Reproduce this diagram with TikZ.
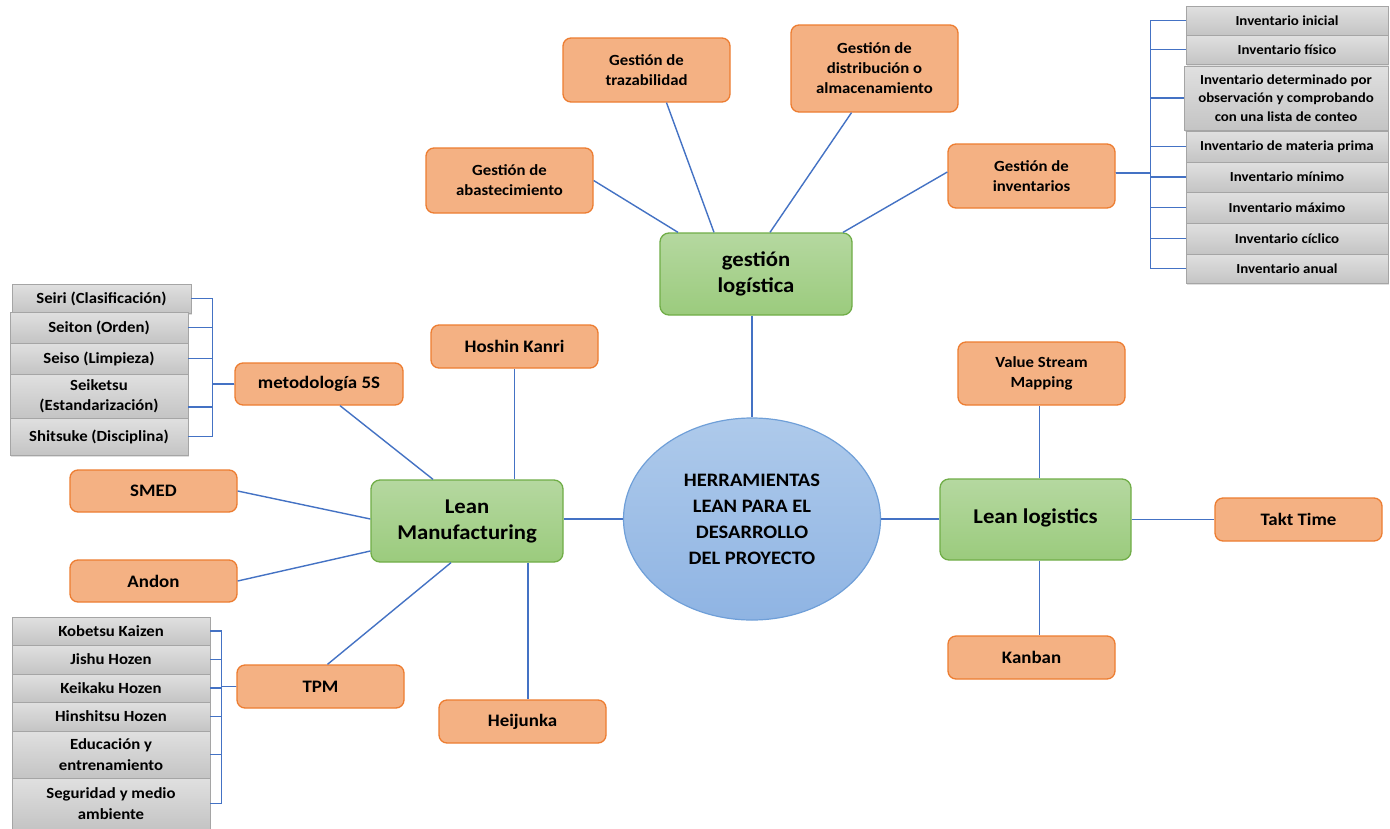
\documentclass[tikz,border=0pt]{standalone}
\usepackage{fontspec}
\setmainfont{Carlito}[FakeStretch=1.08]
\usetikzlibrary{shapes.geometric,shadows}

\definecolor{orfill}{HTML}{F4B183}
\definecolor{ordraw}{HTML}{ED7D31}
\definecolor{grtop}{HTML}{B5D8A0}
\definecolor{grbot}{HTML}{9BCB7D}
\definecolor{grdraw}{HTML}{70AD47}
\definecolor{bltop}{HTML}{AECAEB}
\definecolor{blbot}{HTML}{8FB4E3}
\definecolor{bldraw}{HTML}{6F9FD8}
\definecolor{gytop}{HTML}{E0E0E0}
\definecolor{gybot}{HTML}{C4C4C4}
\definecolor{gydraw}{HTML}{A5A5A5}
\definecolor{linkblue}{HTML}{4472C4}

\tikzset{
  obox/.style={draw=ordraw, fill=orfill, line width=1.3pt, rounded corners=8pt,
    align=center, inner sep=0pt, font=\bfseries\fontsize{15.5}{20}\selectfont},
  obig/.style={obox, font=\bfseries\fontsize{17.5}{21}\selectfont},
  gbox/.style={draw=grdraw, top color=grtop, bottom color=grbot, line width=1.3pt,
    rounded corners=9pt, align=center, inner sep=0pt,
    font=\bfseries\fontsize{21}{26}\selectfont},
  sbox/.style={draw=gydraw, top color=gytop, bottom color=gybot, line width=0.8pt,
    align=center, inner sep=0pt,
    drop shadow={shadow xshift=1pt, shadow yshift=-1.5pt, opacity=.25},
    font=\bfseries\fontsize{15.5}{20.5}\selectfont},
  ibox/.style={sbox, minimum width=202pt, font=\bfseries\fontsize{13.8}{18.5}\selectfont},
  fivebox/.style={sbox, minimum width=178pt},
  tpmbox/.style={sbox, minimum width=198pt},
  wire/.style={draw=linkblue, line width=1.4pt},
}

\begin{document}
\begin{tikzpicture}[x=1pt, y=-1pt]
\useasboundingbox[fill=white] (0,0) rectangle (1390,828);

% central topic
\node[ellipse, draw=bldraw, line width=1.2pt, top color=bltop, bottom color=blbot,
      minimum width=257pt, minimum height=202pt, inner sep=0pt, align=center,
      font=\bfseries\fontsize{19}{26}\selectfont] (core) at (752,519)
      {HERRAMIENTAS\\LEAN PARA EL\\DESARROLLO\\DEL PROYECTO};

% main branches
\node[gbox, minimum width=192pt, minimum height=82pt] (glog) at (756,274) {gestión\\logística};
\node[gbox, minimum width=192pt, minimum height=82pt] (lman) at (467,521) {Lean\\Manufacturing};
\node[gbox, minimum width=191pt, minimum height=81pt] (llog) at (1035.5,519.5) {\raisebox{7pt}{Lean logistics}};

% gestión logística topics
\node[obox, minimum width=167pt, minimum height=64pt] (traz) at (646.5,70) {Gestión de\\trazabilidad};
\node[obox, minimum width=167pt, minimum height=87pt] (dist) at (874.5,68.5) {Gestión de\\distribución o\\almacenamiento};
\node[obox, minimum width=167pt, minimum height=65pt] (abast) at (509.5,180.5) {Gestión de\\abastecimiento};
\node[obox, minimum width=167pt, minimum height=64pt] (inv) at (1031.5,176) {Gestión de\\inventarios};

% Lean Manufacturing topics
\node[obig, minimum width=167pt, minimum height=43pt] (hoshin) at (514.5,346.5) {Hoshin Kanri};
\node[obig, minimum width=168pt, minimum height=42pt] (five) at (319,384) {metodología 5S};
\node[obig, minimum width=167pt, minimum height=42pt] (smed) at (153.5,491) {SMED};
\node[obig, minimum width=167pt, minimum height=42pt] (andon) at (153.5,581) {Andon};
\node[obig, minimum width=167pt, minimum height=43pt] (tpm) at (320.5,686.5) {TPM};
\node[obig, minimum width=167pt, minimum height=43pt] (heij) at (522.5,721.5) {Heijunka};

% Lean logistics topics
\node[obox, minimum width=167pt, minimum height=63pt] (vsm) at (1041.5,373.5) {Value Stream\\Mapping};
\node[obig, minimum width=167pt, minimum height=43pt] (takt) at (1298.5,519.5) {Takt Time};
\node[obig, minimum width=167pt, minimum height=43pt] (kanban) at (1031.5,657.5) {Kanban};

% inventory types
\node[ibox, minimum height=29pt] (inv1) at (1287,20.5) {Inventario inicial};
\node[ibox, minimum height=29pt] (inv2) at (1287,49.5) {Inventario físico};
\node[ibox, minimum width=204pt, minimum height=64pt] (inv3) at (1286,98)
  {Inventario determinado por\\observación y comprobando\\con una lista de conteo};
\node[ibox, minimum height=31pt] (inv4) at (1287,146.5) {Inventario de materia prima};
\node[ibox, minimum height=30pt] (inv5) at (1287,177) {Inventario mínimo};
\node[ibox, minimum height=31pt] (inv6) at (1287,207.5) {Inventario máximo};
\node[ibox, minimum height=31pt] (inv7) at (1287,238.5) {Inventario cíclico};
\node[ibox, minimum height=29pt] (inv8) at (1287,268.5) {Inventario anual};

% 5S steps
\node[fivebox, minimum width=179pt, minimum height=29pt] (s1) at (101.5,298.5) {Seiri (Clasificación)};
\node[fivebox, minimum height=31pt] (s2) at (99,327.5) {Seiton (Orden)};
\node[fivebox, minimum height=31pt] (s3) at (99,358.5) {Seiso (Limpieza)};
\node[fivebox, minimum height=44pt] (s4) at (99,396) {Seiketsu\\(Estandarización)};
\node[fivebox, minimum height=37pt] (s5) at (99,436.5) {Shitsuke (Disciplina)};

% TPM pillars
\node[tpmbox, minimum height=28pt] (t1) at (111,631) {Kobetsu Kaizen};
\node[tpmbox, minimum height=29pt] (t2) at (111,659.5) {Jishu Hozen};
\node[tpmbox, minimum height=28pt] (t3) at (111,688) {Keikaku Hozen};
\node[tpmbox, minimum height=29pt] (t4) at (111,716.5) {Hinshitsu Hozen};
\node[tpmbox, minimum height=47pt] (t5) at (111,754.5) {Educación y\\entrenamiento};
\node[tpmbox, minimum height=51pt] (t6) at (111,803.5) {Seguridad y medio\\ambiente};

% connectors around the centre
\draw[wire] (core.north |- glog.south) -- (core.north);
\draw[wire] (lman.east |- core.west) -- (core.west);
\draw[wire] (core.east) -- (core.east -| llog.west);

% gestión logística connectors
\draw[wire] (abast.east) -- ([xshift=-78pt]glog.north);
\draw[wire] ([xshift=20pt]traz.south) -- ([xshift=-42pt]glog.north);
\draw[wire] ([xshift=-23pt]dist.south) -- ([xshift=14pt]glog.north);
\draw[wire] ([yshift=4pt]inv.west) -- ([xshift=87pt]glog.north);

% Lean Manufacturing connectors
\draw[wire] (hoshin.south) -- (hoshin.south |- lman.north);
\draw[wire] ([xshift=21pt]five.south) -- ([xshift=-34pt]lman.north);
\draw[wire] (smed.east) -- ([yshift=2pt]lman.west);
\draw[wire] (andon.east) -- ([yshift=-30pt]lman.west);
\draw[wire] ([xshift=7pt]tpm.north) -- ([xshift=-16pt]lman.south);
\draw[wire] ([xshift=61pt]lman.south) -- ([xshift=61pt]lman.south |- heij.north);

% Lean logistics connectors
\draw[wire] ([xshift=4pt]llog.north) -- ([xshift=4pt]llog.north |- vsm.south);
\draw[wire] (llog.east) -- (llog.east -| takt.west);
\draw[wire] ([xshift=4pt]llog.south) -- ([xshift=4pt]llog.south |- kanban.north);

% bracket connectors to the lists
\foreach \k in {inv1,inv2,inv3,inv4,inv5,inv6,inv7,inv8}
  \draw[wire] ([yshift=3pt]inv.east) -- ++(35,0) |- (\k.west);
\foreach \k in {s1,s2,s3,s5}
  \draw[wire] (five.west) -- ++(-22,0) |- (\k.east);
\draw[wire] (five.west) -- ++(-22,0) |- ([yshift=-11pt]s4.east);
\foreach \k in {t1,t2,t3,t4,t5,t6}
  \draw[wire] (tpm.west) -- ++(-15,0) |- (\k.east);
\end{tikzpicture}
\end{document}
